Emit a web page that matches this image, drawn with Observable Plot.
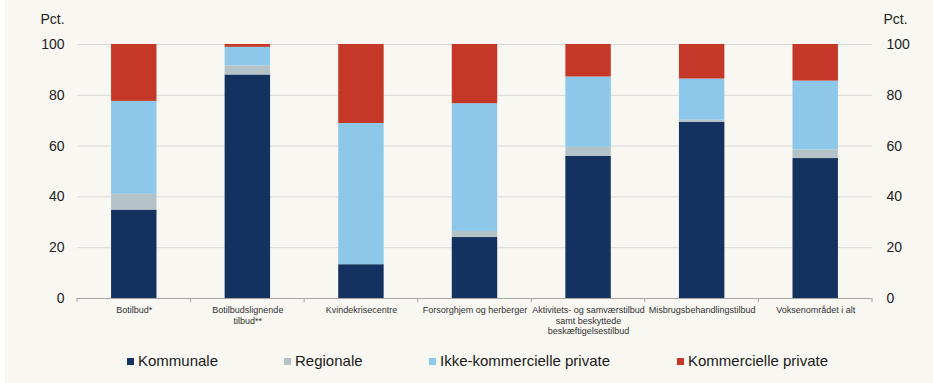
<!DOCTYPE html>
<html>
<head>
<meta charset="utf-8">
<script src="https://cdn.jsdelivr.net/npm/d3@7"></script>
<script src="https://cdn.jsdelivr.net/npm/@observablehq/plot@0.6"></script>
<style>
  html, body { margin: 0; padding: 0; background: #f8f7f1; width: 933px; height: 383px; overflow: hidden; }
  #strip { position: absolute; left: 0; top: 0; width: 5px; height: 383px; background: #ffffff; }
  #chart { position: absolute; left: 0; top: 0; width: 933px; }
  .legend { position: relative; width: 933px; height: 38px; font-family: "Liberation Sans", Arial, sans-serif; font-size: 15px; color: #1a1a1a; }
  .legend .sw { position: absolute; top: 13px; width: 7px; height: 7px; }
  .legend .lb { position: absolute; top: 7px; line-height: 17px; white-space: nowrap; }
</style>
</head>
<body>
<div id="chart"></div>
<div id="strip"></div>
<script>
const categories = [
  "Botilbud*",
  "Botilbudslignende tilbud**",
  "Kvindekrisecentre",
  "Forsorghjem og herberger",
  "Aktivitets- og samværstilbud samt beskyttede beskæftigelsestilbud",
  "Misbrugsbehandlingstilbud",
  "Voksenområdet i alt"
];
const tickLabels = [
  "Botilbud*",
  "Botilbudslignende\ntilbud**",
  "Kvindekrisecentre",
  "Forsorghjem og herberger",
  "Aktivitets- og samværstilbud\nsamt beskyttede\nbeskæftigelsestilbud",
  "Misbrugsbehandlingstilbud",
  "Voksenområdet i alt"
];
const seriesNames = ["Kommunale", "Regionale", "Ikke-kommercielle private", "Kommercielle private"];
const kommunale        = [34.8, 88.0, 13.3, 24.0, 56.0, 69.3, 55.1];
const regionale        = [ 6.2,  3.6,  0.0,  2.4,  3.5,  0.9,  3.4];
const ikkeKommercielle = [36.6,  7.3, 55.6, 50.3, 27.7, 16.2, 27.1];
const kommercielle     = [22.4,  1.1, 31.1, 23.3, 12.8, 13.6, 14.4];
const seriesColors = ["#14325f", "#b4c3c8", "#8dc8ea", "#c53726"];
const yTicks = [0, 20, 40, 60, 80, 100];
const yLabel = "Pct.";

const seriesValues = [kommunale, regionale, ikkeKommercielle, kommercielle];
const rows = [];
seriesNames.forEach((s, si) => {
  categories.forEach((c, ci) => rows.push({series: s, category: c, value: seriesValues[si][ci]}));
});

const font = '"Liberation Sans", Arial, sans-serif';
const narrow = '"Liberation Sans Narrow", "Arial Narrow", "Liberation Sans", Arial, sans-serif';

// band-boundary tick marks on the baseline, positioned by the x scale
function boundaryTicks(index, scales, values, dims) {
  const x = scales.x;
  const step = x.step();
  const bw = x.bandwidth();
  const y0 = dims.height - dims.marginBottom;
  const g = d3.create("svg:g").attr("stroke", "#a6a6a6").attr("stroke-width", 1);
  const xs = categories.map(c => x(c) - (step - bw) / 2);
  xs.push(x(categories[categories.length - 1]) + bw + (step - bw) / 2);
  for (const xx of xs) {
    g.append("line").attr("x1", xx).attr("x2", xx).attr("y1", y0).attr("y2", y0 + 4);
  }
  return g.node();
}

const plot = Plot.plot({
  width: 933,
  height: 345,
  marginLeft: 77,
  marginRight: 61,
  marginTop: 44,
  marginBottom: 47,
  style: {fontFamily: font, background: "transparent", color: "#222"},
  x: {domain: categories, paddingInner: 0.6, paddingOuter: 0.3, round: false, label: null},
  y: {domain: [0, 100], label: null},
  color: {domain: seriesNames, range: seriesColors},
  marks: [
    Plot.ruleY(yTicks.filter(d => d > 0), {stroke: "#d9d9d9", strokeWidth: 1}),
    Plot.barY(rows, {x: "category", y: "value", fill: "series"}),
    Plot.ruleY([0], {stroke: "#a6a6a6", strokeWidth: 1}),
    boundaryTicks,
    Plot.axisY(yTicks, {anchor: "left", tickSize: 0, tickPadding: 13, fontSize: 14, fill: "#222", label: null, fontFamily: font}),
    Plot.axisY(yTicks, {anchor: "right", tickSize: 0, tickPadding: 14, fontSize: 14, fill: "#222", label: null, fontFamily: font}),
    Plot.axisX({
      tickSize: 0, tickPadding: 7, fontSize: 9, lineHeight: 1.17, fill: "#333", label: null,
      fontFamily: narrow,
      tickFormat: d => tickLabels[categories.indexOf(d)]
    }),
    Plot.text([yLabel], {frameAnchor: "top-left", text: d => d, dx: -37, dy: -21, textAnchor: "start", lineAnchor: "bottom", fontSize: 14, fill: "#222"}),
    Plot.text([yLabel], {frameAnchor: "top-right", text: d => d, dx: 11, dy: -21, textAnchor: "start", lineAnchor: "bottom", fontSize: 14, fill: "#222"})
  ]
});

const chart = document.getElementById("chart");
chart.appendChild(plot);

// legend below the SVG
const legendLeft = [127, 284, 429, 677];
const legend = document.createElement("div");
legend.className = "legend";
seriesNames.forEach((s, i) => {
  const sw = document.createElement("div");
  sw.className = "sw";
  sw.style.left = legendLeft[i] + "px";
  sw.style.background = seriesColors[i];
  const lb = document.createElement("div");
  lb.className = "lb";
  lb.style.left = (legendLeft[i] + 11) + "px";
  lb.textContent = s;
  legend.appendChild(sw);
  legend.appendChild(lb);
});
chart.appendChild(legend);
</script>
</body>
</html>
